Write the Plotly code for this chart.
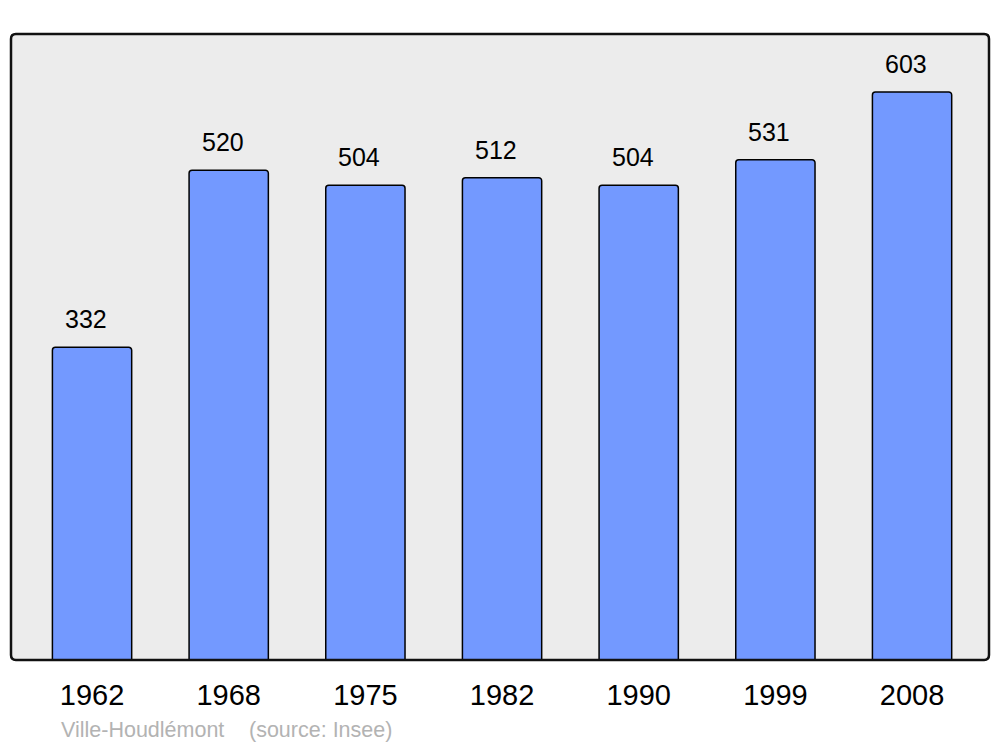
import plotly.graph_objects as go

years = ["1962", "1968", "1975", "1982", "1990", "1999", "2008"]
population = [332, 520, 504, 512, 504, 531, 603]
positions = list(range(len(years)))

FONT = "Liberation Sans, Arial, sans-serif"

fig = go.Figure()
fig.add_trace(go.Bar(
    x=positions, y=population, width=0.58,
    marker=dict(color="#7399ff", line=dict(color="#000000", width=1.5), cornerradius=3),
    hoverinfo="skip",
))

for p, v in zip(positions, population):
    fig.add_annotation(x=p, y=v, text=str(v), showarrow=False, xref="x", yref="y",
                       yanchor="middle", yshift=28, xshift=-6,
                       font=dict(family=FONT, size=25, color="#000000"))

# rounded plot frame
r = 0.005
fig.add_shape(type="path", xref="paper", yref="paper",
              path=("M 0,{b} L 0,{t} Q 0,1 {l},1 L {rr},1 Q 1,1 1,{t} L 1,{b} Q 1,0 {rr},0 L {l},0 Q 0,0 0,{b} Z"
                    .format(l=r, rr=1 - r, t=1 - r * 1.56, b=r * 1.56)),
              line=dict(color="#111111", width=2.5), fillcolor="rgba(0,0,0,0)", layer="above")

fig.add_annotation(text="Ville-Houdlémont", xref="paper", yref="paper", x=(59 - 11) / 978, y=0,
                   xanchor="left", yanchor="middle", yshift=-70, showarrow=False,
                   font=dict(family=FONT, size=21.5, color="#b3b3b3"))
fig.add_annotation(text="(source: Insee)", xref="paper", yref="paper", x=(247 - 11) / 978, y=0,
                   xanchor="left", yanchor="middle", yshift=-70, showarrow=False,
                   font=dict(family=FONT, size=21.5, color="#b3b3b3"))

fig.update_layout(
    width=1000, height=747,
    margin=dict(l=11, r=11, t=34, b=87),
    paper_bgcolor="#ffffff", plot_bgcolor="#ececec",
    showlegend=False,
    xaxis=dict(range=[-0.593, 6.563], tickvals=positions, ticktext=years, showgrid=False,
               zeroline=False, showline=False, ticks="", ticklabelstandoff=15,
               tickfont=dict(family=FONT, size=29, color="#000000")),
    yaxis=dict(range=[0, 664.5], visible=False, showgrid=False, zeroline=False),
)

fig.write_html("out.html", config={"displayModeBar": False},
               post_script="document.body.style.margin='0';document.body.style.overflow='hidden';")
